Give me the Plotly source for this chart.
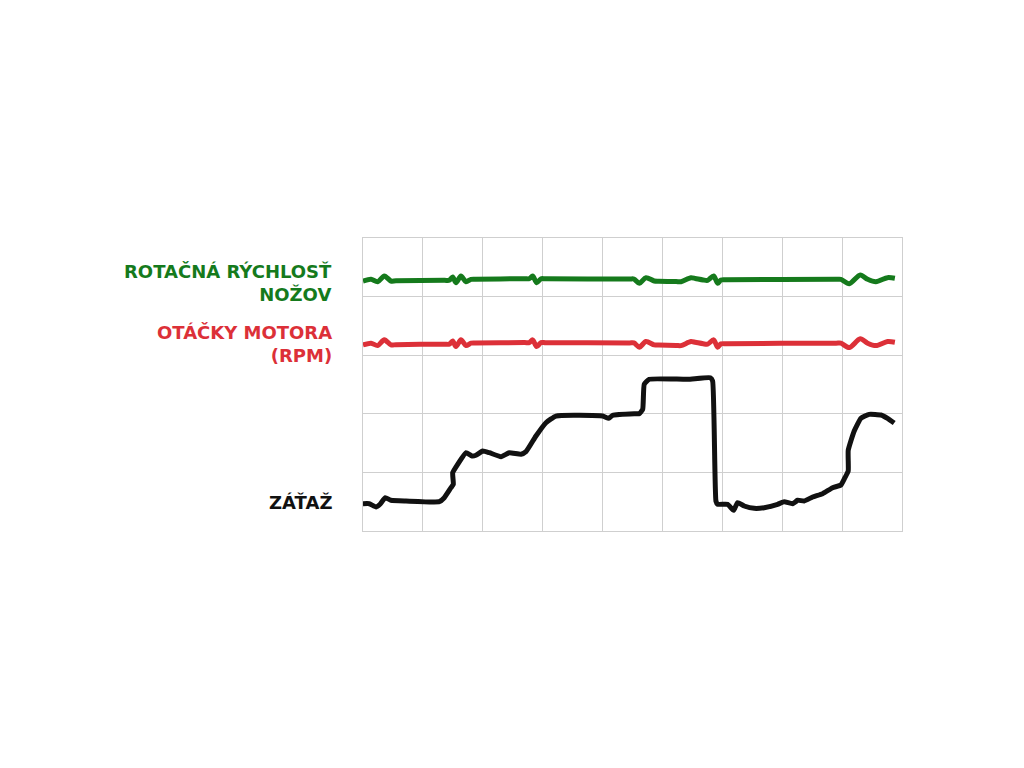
import plotly.graph_objects as go

# time axis (grid columns 0..9) and level axis (grid rows 0..5)
load_x = [0, 0.105, 0.217, 0.284, 0.372, 0.467, 0.718, 1.274, 1.357, 1.469, 1.508, 1.498,
          1.581, 1.72, 1.82, 1.886, 1.998, 2.109, 2.304, 2.442, 2.638, 2.721, 2.888, 3.055,
          3.222, 4.002, 4.102, 4.169, 4.529, 4.613, 4.67, 4.696, 4.78, 5.421, 5.798, 5.838,
          5.893, 5.922, 6.088, 6.189, 6.255, 6.366, 6.533, 6.699, 6.923, 7.033, 7.174, 7.257,
          7.367, 7.508, 7.674, 7.841, 7.98, 8.047, 8.102, 8.102, 8.202, 8.314, 8.452, 8.648,
          8.759, 8.87]
load_y = [0.466, 0.466, 0.41, 0.456, 0.568, 0.524, 0.512, 0.5, 0.568, 0.739, 0.797, 0.995,
          1.138, 1.336, 1.28, 1.292, 1.365, 1.336, 1.268, 1.336, 1.309, 1.353, 1.621, 1.848,
          1.962, 1.962, 1.923, 1.974, 2.002, 2.002, 2.077, 2.503, 2.589, 2.589, 2.616, 2.56,
          0.512, 0.456, 0.456, 0.353, 0.483, 0.427, 0.387, 0.398, 0.456, 0.5, 0.466, 0.524,
          0.512, 0.58, 0.637, 0.739, 0.785, 0.91, 1.024, 1.377, 1.706, 1.923, 1.991, 1.98,
          1.923, 1.843]

speed_x = [0, 0.134, 0.245, 0.356, 0.467, 0.55, 1.36, 1.441, 1.497, 1.553, 1.636, 1.72,
           1.803, 1.88, 2.70, 2.776, 2.833, 2.9, 2.972, 3.05, 4.45, 4.524, 4.613, 4.725,
           4.863, 4.94, 5.23, 5.309, 5.476, 5.55, 5.68, 5.755, 5.855, 5.922, 5.977, 6.06,
           7.90, 7.98, 8.119, 8.302, 8.426, 8.564, 8.759, 8.881]
blade_y = [4.266, 4.295, 4.254, 4.352, 4.266, 4.27, 4.278, 4.278, 4.334, 4.237, 4.352, 4.254,
           4.295, 4.298, 4.305, 4.305, 4.352, 4.237, 4.305, 4.303, 4.3, 4.3, 4.227, 4.323,
           4.266, 4.262, 4.256, 4.254, 4.323, 4.31, 4.285, 4.278, 4.352, 4.227, 4.283, 4.287,
           4.295, 4.295, 4.22, 4.369, 4.295, 4.254, 4.323, 4.312]
rpm_y = [3.176, 3.205, 3.164, 3.262, 3.176, 3.18, 3.188, 3.188, 3.244, 3.147, 3.262, 3.164,
         3.205, 3.208, 3.215, 3.215, 3.262, 3.147, 3.215, 3.213, 3.21, 3.21, 3.137, 3.233,
         3.176, 3.172, 3.166, 3.164, 3.233, 3.22, 3.195, 3.188, 3.262, 3.137, 3.193, 3.197,
         3.205, 3.205, 3.13, 3.279, 3.205, 3.164, 3.233, 3.222]

labels = ["ROTAČNÁ RÝCHLOSŤ<br>NOŽOV", "OTÁČKY MOTORA<br>(RPM)", "ZÁŤAŽ"]
label_y = [0.846, 0.638, 0.0956]
colors = ["#157a1c", "#dc3038", "#111111"]

fig = go.Figure()
fig.add_trace(go.Scatter(x=speed_x, y=blade_y, mode="lines",
                         line=dict(color=colors[0], width=5, shape="spline", smoothing=0.8)))
fig.add_trace(go.Scatter(x=speed_x, y=rpm_y, mode="lines",
                         line=dict(color=colors[1], width=5, shape="spline", smoothing=0.8)))
fig.add_trace(go.Scatter(x=load_x, y=load_y, mode="lines",
                         line=dict(color=colors[2], width=5, shape="spline", smoothing=0.4)))

for txt, yy, c in zip(labels, label_y, colors):
    fig.add_annotation(text=f"<b>{txt}</b>", xref="paper", yref="paper", x=-0.054, y=yy,
                       xanchor="right", yanchor="middle", align="right", showarrow=False,
                       font=dict(family="DejaVu Sans", size=18, color=c))

fig.update_layout(
    width=1024, height=768,
    margin=dict(l=355, r=130, t=230, b=245),
    paper_bgcolor="white", plot_bgcolor="white",
    showlegend=False,
)
fig.update_xaxes(range=[0, 9], dtick=1, showgrid=True, gridcolor="#cfcfcf", gridwidth=1,
                 showticklabels=False, zeroline=False, showline=True, mirror=True,
                 linecolor="#cfcfcf", linewidth=1, ticks="")
fig.update_yaxes(range=[0, 5], dtick=1, showgrid=True, gridcolor="#cfcfcf", gridwidth=1,
                 showticklabels=False, zeroline=False, showline=True, mirror=True,
                 linecolor="#cfcfcf", linewidth=1, ticks="")

fig.write_html("out.html")
